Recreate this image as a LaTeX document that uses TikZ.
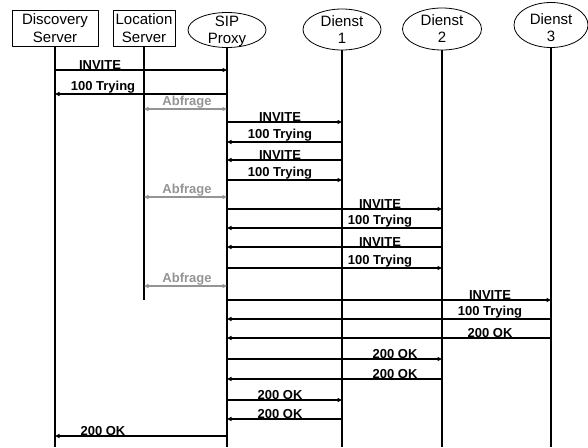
\documentclass[tikz,border=0pt]{standalone}
\usepackage{fontspec}
\setmainfont{Liberation Sans}
\usetikzlibrary{
  arrows.meta,      % Triangle arrow tips
  shapes.geometric  % ellipse nodes
}

\begin{document}
\begin{tikzpicture}[x=1pt, y=-1pt, >={Triangle[length=4.5pt,width=4pt]}, line join=round]
  % styles for participants, lifelines and messages
  \tikzset{
    party box/.style={draw=black, line width=0.8pt, minimum width=86pt, minimum height=36pt,
      inner sep=0pt, align=center, font=\fontsize{15}{18}\selectfont},
    party oval/.style={ellipse, draw=black, line width=0.8pt, inner sep=0pt},
    party text/.style={align=center, inner sep=0pt, font=\fontsize{15}{17}\selectfont},
    lifeline/.style={line width=1.6pt, draw=black},
    msg line/.style={->, line width=1.4pt, draw=black},
    query line/.style={<->, line width=1.4pt, draw=black!42},
    msg label/.style={anchor=south, inner sep=0.6pt, font=\fontsize{13}{15}\selectfont\bfseries},
    query label/.style={msg label, text=black!42}
  }
  \useasboundingbox (0,0) rectangle (588,447);

  % =======================
  % participants
  % =======================
  \node[party box] (disc) at (55,28) {Discovery\\Server};
  \node[party box, minimum width=62pt] (loc) at (144,28) {Location\\Server};
  \node[party oval, minimum width=78pt, minimum height=35pt,
    label={[party text, yshift=-1pt]center:SIP\\Proxy}] (sip) at (227,30) {};
  \node[party oval, minimum width=78pt, minimum height=41pt,
    label={[party text]center:Dienst\\1}] (d1) at (342,29.5) {};
  \node[party oval, minimum width=79pt, minimum height=42pt,
    label={[party text]center:Dienst\\2}] (d2) at (442,29) {};
  \node[party oval, minimum width=74pt, minimum height=45pt,
    label={[party text, yshift=-2.5pt]center:Dienst\\3}] (d3) at (551,25) {};

  % =======================
  % lifelines
  % =======================
  \coordinate (bottom) at (0,447);
  \coordinate (loc end) at (0,300);
  \draw[lifeline] (disc.south) -- (disc |- bottom);
  \draw[lifeline] (loc.south) -- (loc |- loc end);
  \foreach \p in {sip, d1, d2, d3}
    \draw[lifeline] (\p.south) -- (\p |- bottom);

  % =======================
  % queries to the location server
  % =======================
  \foreach \y in {109, 197, 286} {
    \coordinate (row) at (0,\y);
    \draw[query line] (loc |- row) -- (sip |- row);
    \node[query label] at (187,\y) {Abfrage};
  }

  % =======================
  % SIP messages: y / from / to / label x / text
  % =======================
  \foreach \y/\a/\b/\lx/\txt in {
      70/disc/sip/100/INVITE,
      94/sip/disc/103/100 Trying,
      122/sip/d1/280/INVITE,
      142/d1/sip/280/100 Trying,
      160/d1/sip/280/INVITE,
      180/sip/d1/280/100 Trying,
      209/sip/d2/380/INVITE,
      228/d2/sip/380/100 Trying,
      247/d2/sip/380/INVITE,
      268/sip/d2/380/100 Trying,
      300/sip/d3/490/INVITE,
      319/d3/sip/490/100 Trying,
      338/d3/sip/490/200 OK,
      359/sip/d2/395/200 OK,
      379/d2/sip/395/200 OK,
      400/sip/d1/280/200 OK,
      419/d1/sip/280/200 OK,
      436/sip/disc/103/200 OK} {
    \coordinate (row) at (0,\y);
    \draw[msg line] (\a |- row) -- (\b |- row);
    \node[msg label] at (\lx,\y) {\txt};
  }

\end{tikzpicture}
\end{document}
